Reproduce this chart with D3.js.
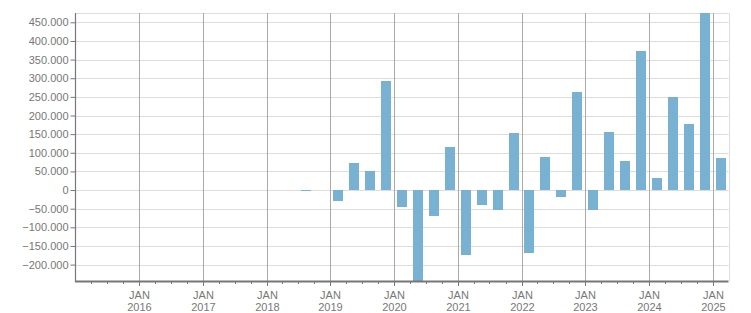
<!DOCTYPE html>
<html>
<head>
<meta charset="utf-8">
<script src="https://cdn.jsdelivr.net/npm/d3@7"></script>
<style>
  html, body { margin: 0; padding: 0; background: #fff; }
  svg { display: block; font-family: "Liberation Sans", Arial, sans-serif; }
</style>
</head>
<body>
<div id="chart"></div>
<script>
// quarterly values, first bar = Q3 2018
const firstQuarter = '2018-07-01';
const values = [
  -3000, 0,
  -30000, 73000, 51000, 293000,
  -46000, -244000, -70000, 115000,
  -174000, -40000, -54000, 153000,
  -169000, 88000, -19000, 263000,
  -54000, 156000, 78000, 373000,
  32000, 250000, 177000, 475000,
  86000
];
const monthLabel = 'JAN';
const yearTicks = [2016, 2017, 2018, 2019, 2020, 2021, 2022, 2023, 2024, 2025];
const yTicks = [-200000, -150000, -100000, -50000, 0, 50000, 100000, 150000, 200000, 250000, 300000, 350000, 400000, 450000];
const timeDomain = ['2015-01-01', '2025-04-01'];

const width = 751;
const height = 313;
const margin = { top: 13, right: 22.5, bottom: 32, left: 75.5 };
const barColor = '#79b1d3';
const textColor = '#777';

const data = values.map((v, i) => {
  const start = d3.utcMonth.offset(new Date(firstQuarter), i * 3);
  return { start, end: d3.utcMonth.offset(start, 3), value: v };
});

const x = d3.scaleUtc()
  .domain(timeDomain.map((d) => new Date(d)))
  .range([margin.left, width - margin.right]);

const y = d3.scaleLinear()
  .domain(d3.extent(values))
  .range([height - margin.bottom, margin.top]);

const locale = d3.formatLocale({ decimal: ',', thousands: '.', grouping: [3], currency: ['', ''] });
const fmt = locale.format(',');

const svg = d3.select('#chart')
  .append('svg')
  .attr('width', width)
  .attr('height', height);

// horizontal grid
svg.append('g')
  .selectAll('line')
  .data(yTicks)
  .join('line')
  .attr('x1', margin.left)
  .attr('x2', width - margin.right)
  .attr('y1', (d) => Math.round(y(d)) + 0.5)
  .attr('y2', (d) => Math.round(y(d)) + 0.5)
  .attr('stroke', '#ddd');

// top and right border
svg.append('line')
  .attr('x1', margin.left).attr('x2', width - margin.right)
  .attr('y1', margin.top + 0.5).attr('y2', margin.top + 0.5)
  .attr('stroke', '#ddd');
svg.append('line')
  .attr('x1', Math.round(width - margin.right) + 0.5).attr('x2', Math.round(width - margin.right) + 0.5)
  .attr('y1', margin.top).attr('y2', height - margin.bottom)
  .attr('stroke', '#ddd');

// vertical year lines
const yearDates = yearTicks.map((yr) => new Date(Date.UTC(yr, 0, 1)));
svg.append('g')
  .selectAll('line')
  .data(yearDates)
  .join('line')
  .attr('x1', (d) => Math.round(x(d)) + 0.5)
  .attr('x2', (d) => Math.round(x(d)) + 0.5)
  .attr('y1', margin.top)
  .attr('y2', height - margin.bottom)
  .attr('stroke', '#aaa');

// bars
svg.append('g')
  .selectAll('rect')
  .data(data.filter((d) => d.value !== 0))
  .join('rect')
  .attr('x', (d) => Math.round((x(d.start) + x(d.end)) / 2 - 5))
  .attr('width', 10)
  .attr('y', (d) => Math.round(y(Math.max(0, d.value))))
  .attr('height', (d) => Math.max(1, Math.round(Math.abs(y(d.value) - y(0)))))
  .attr('fill', barColor)
  .attr('shape-rendering', 'crispEdges');

// y axis
const yAxis = svg.append('g')
  .attr('transform', `translate(${margin.left},0)`)
  .call(d3.axisLeft(y).tickValues(yTicks).tickFormat(fmt).tickSize(5).tickPadding(2));
yAxis.select('.domain').remove();
yAxis.selectAll('.tick line').attr('stroke', textColor);
yAxis.selectAll('.tick text')
  .attr('fill', textColor)
  .attr('font-size', '11px')
  .attr('font-family', '"Liberation Sans", Arial, sans-serif');
svg.append('line')
  .attr('x1', margin.left).attr('x2', margin.left)
  .attr('y1', margin.top).attr('y2', height - margin.bottom + 1)
  .attr('stroke', textColor)
  .attr('stroke-width', 1.2);

// x axis: quarterly minor ticks, yearly major ticks
const base = height - margin.bottom;
const quarters = d3.utcMonth.every(3).range(x.domain()[0], x.domain()[1]).slice(1);
svg.append('g')
  .selectAll('line')
  .data(quarters)
  .join('line')
  .attr('x1', (d) => Math.round(x(d)) + 0.5)
  .attr('x2', (d) => Math.round(x(d)) + 0.5)
  .attr('y1', base)
  .attr('y2', (d) => base + (d.getUTCMonth() === 0 ? 5 : 3))
  .attr('stroke', textColor);
svg.append('line')
  .attr('x1', margin.left - 0.5).attr('x2', width - margin.right)
  .attr('y1', base + 0.5).attr('y2', base + 0.5)
  .attr('stroke', textColor)
  .attr('stroke-width', 2);

const xLabels = svg.append('g')
  .selectAll('text')
  .data(yearDates)
  .join('text')
  .attr('x', (d) => Math.round(x(d)) + 0.5)
  .attr('text-anchor', 'middle')
  .attr('fill', textColor)
  .attr('font-size', '11px');
xLabels.append('tspan').attr('x', (d) => Math.round(x(d)) + 0.5).attr('y', 299).text(monthLabel);
xLabels.append('tspan').attr('x', (d) => Math.round(x(d)) + 0.5).attr('y', 311).text((d) => d.getUTCFullYear());
</script>
</body>
</html>
